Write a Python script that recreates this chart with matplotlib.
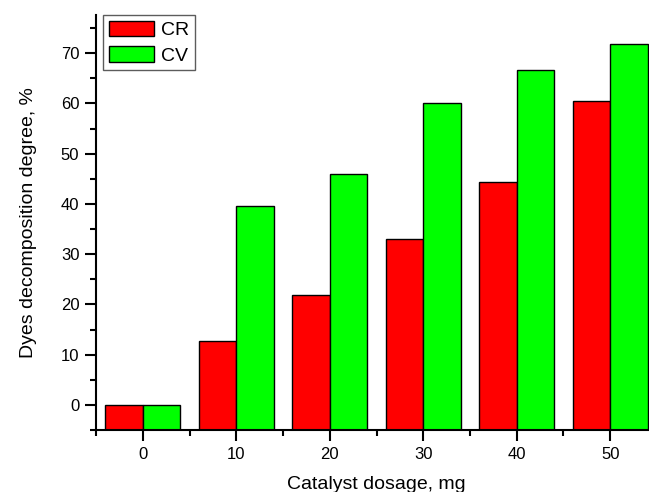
import numpy as np
import matplotlib
matplotlib.use("Agg")
import matplotlib.pyplot as plt
from matplotlib.ticker import MultipleLocator

plt.rcParams["font.family"] = ["Liberation Sans", "DejaVu Sans"]

# Catalyst dosage (mg) and decomposition degree (%) for each dye
dosage = [0, 10, 20, 30, 40, 50]
cr_values = [0.0, 12.8, 21.9, 33.0, 44.3, 60.5]
cv_values = [0.0, 39.5, 45.9, 60.1, 66.6, 71.9]
series_names = ["CR", "CV"]

y_min, y_max = -5, 77.6

fig = plt.figure(figsize=(6.49, 4.92), dpi=100)
ax = fig.add_axes([0.148, 0.126, 1.0123 - 0.148, 0.9695 - 0.126])

# bars grow from the bottom of the axis, Origin style
x = np.array(dosage, dtype=float)
w = 4.0
ax.bar(x - w / 2, np.array(cr_values) - y_min, bottom=y_min, width=w,
       color="#ff0000", edgecolor="black", linewidth=1.0, label=series_names[0])
ax.bar(x + w / 2, np.array(cv_values) - y_min, bottom=y_min, width=w,
       color="#00ff00", edgecolor="black", linewidth=1.0, label=series_names[1])

ax.set_xlim(-5, 55)
ax.set_ylim(y_min, y_max)
ax.set_xticks(dosage)
ax.xaxis.set_minor_locator(MultipleLocator(5))
ax.yaxis.set_major_locator(MultipleLocator(10))
ax.yaxis.set_minor_locator(MultipleLocator(5))

for side in ("top", "right"):
    ax.spines[side].set_visible(False)
for side in ("left", "bottom"):
    ax.spines[side].set_linewidth(1.5)

ax.tick_params(which="major", direction="out", length=8, width=1.5, labelsize=12, pad=4)
ax.tick_params(which="minor", direction="out", length=4, width=1.5)

ax.set_xlabel("Catalyst dosage, mg", fontsize=14, labelpad=10)
ax.set_ylabel("Dyes decomposition degree, %", fontsize=14, labelpad=17)

leg = ax.legend(loc="upper left", bbox_to_anchor=(0.013, 1.0), fontsize=14,
                frameon=True, fancybox=False, handlelength=2.3, handleheight=0.85,
                handletextpad=0.35, borderpad=0.3, labelspacing=0.35,
                borderaxespad=0.0)
leg.get_frame().set_edgecolor("#333333")
leg.get_frame().set_linewidth(1.0)

fig.savefig("out.png", dpi=100)
